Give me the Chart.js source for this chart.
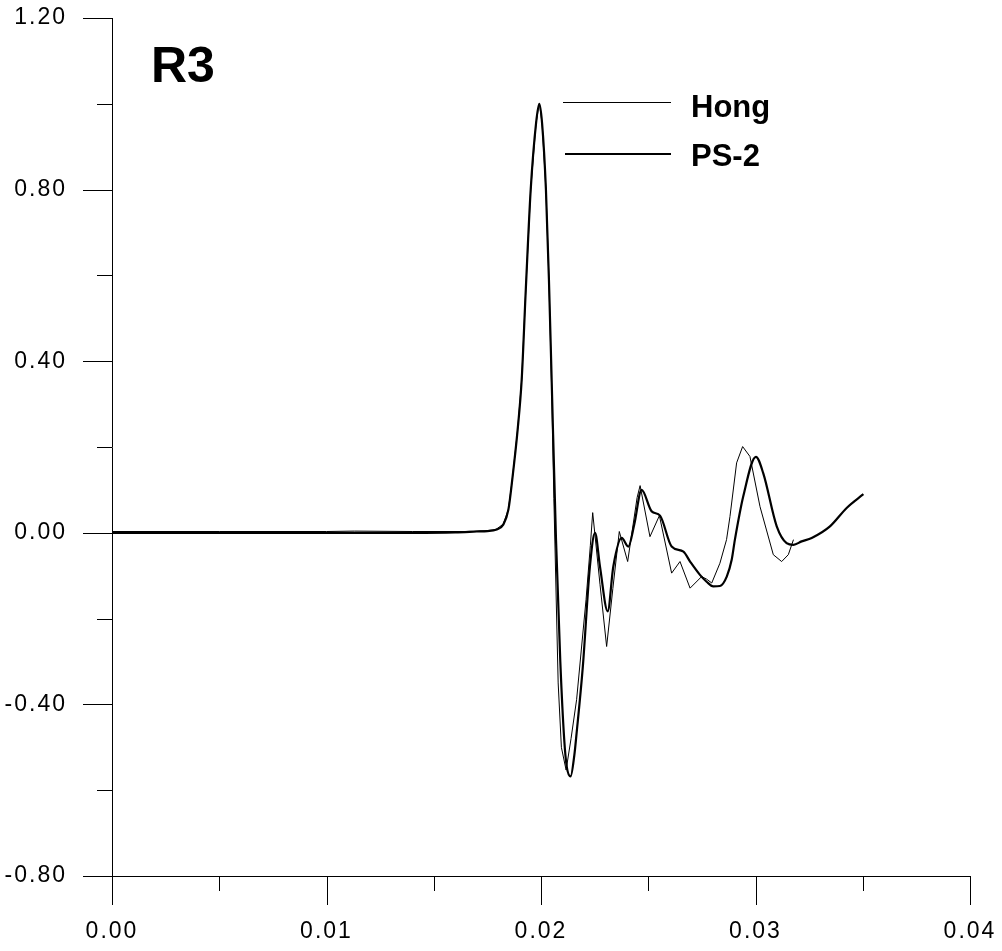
<!DOCTYPE html>
<html>
<head>
<meta charset="utf-8">
<script src="https://cdn.jsdelivr.net/npm/chart.js@4"></script>
<style>
  html, body { margin: 0; padding: 0; background: #fff; }
  #wrap { width: 1002px; height: 951px; }
</style>
</head>
<body>
<div id="wrap"><canvas id="chart"></canvas></div>
<script>
// Time (s) and normalised amplitude for the two records at station R3
const hongTime = [0, 0.005, 0.010, 0.0113, 0.014, 0.0165, 0.0175, 0.0179, 0.01824, 0.01848,
    0.01866, 0.01891, 0.0191, 0.01929, 0.01952, 0.01977, 0.01992, 0.02005, 0.02023, 0.02037,
    0.0205, 0.0206, 0.0208, 0.02095, 0.02117, 0.0214, 0.02166, 0.0221, 0.0223, 0.02241,
    0.02275, 0.02306, 0.02335, 0.02365, 0.02404, 0.02448, 0.02462, 0.02508, 0.02552, 0.02609,
    0.02648, 0.02695, 0.02749, 0.02772, 0.02796, 0.02834, 0.02865, 0.02881, 0.02912, 0.0294,
    0.02974, 0.03021, 0.03083, 0.03122, 0.03153, 0.03177];
const hongAmp = [0.003, 0.003, 0.003, 0.004, 0.003, 0.003, 0.005, 0.008, 0.020, 0.055,
    0.124, 0.240, 0.357, 0.566, 0.800, 0.955, 1.000, 0.955, 0.800, 0.590,
    0.330, 0.080, -0.350, -0.500, -0.553, -0.480, -0.389, -0.156, -0.030, 0.047,
    -0.120, -0.265, -0.130, 0.003, -0.067, 0.082, 0.110, -0.009, 0.040, -0.094,
    -0.067, -0.129, -0.102, -0.108, -0.117, -0.071, -0.016, 0.038, 0.163, 0.201,
    0.178, 0.061, -0.051, -0.067, -0.051, -0.016];

const ps2Time = [0, 0.005, 0.010, 0.014, 0.016, 0.017, 0.0175, 0.0179, 0.01824, 0.01848,
    0.01866, 0.01891, 0.0191, 0.01929, 0.01952, 0.01977, 0.01992, 0.02005, 0.02023, 0.02037,
    0.0205, 0.0207, 0.0209, 0.02108, 0.0212, 0.02138, 0.02155, 0.02166, 0.02195, 0.02228,
    0.02252, 0.02275, 0.02311, 0.02337, 0.02376, 0.02407, 0.02435, 0.02469, 0.02516, 0.02555,
    0.02609, 0.02664, 0.02695, 0.02741, 0.02772, 0.02803, 0.02834, 0.02866, 0.02889, 0.02904,
    0.02943, 0.03002, 0.03036, 0.03099, 0.03145, 0.03177, 0.03215, 0.03262, 0.03347, 0.03425,
    0.03503];
const ps2Amp = [0, 0, 0, 0, 0.001, 0.003, 0.004, 0.007, 0.019, 0.054,
    0.124, 0.240, 0.357, 0.566, 0.800, 0.955, 1.000, 0.955, 0.800, 0.590,
    0.350, -0.016, -0.300, -0.480, -0.545, -0.568, -0.520, -0.467, -0.312, -0.079,
    0.000, -0.079, -0.183, -0.079, -0.012, -0.032, 0.020, 0.100, 0.050, 0.040,
    -0.032, -0.044, -0.067, -0.098, -0.114, -0.125, -0.124, -0.102, -0.063, -0.016,
    0.085, 0.177, 0.139, 0.015, -0.024, -0.028, -0.020, -0.012, 0.015, 0.058,
    0.090];

const seriesNames = ['Hong', 'PS-2'];
const panelTitle = 'R3';
const xTickLabels = ['0.00', '0.01', '0.02', '0.03', '0.04'];
const yTickLabels = ['-0.80', '-0.40', '0.00', '0.40', '0.80', '1.20'];

const toPoints = (xs, ys) => xs.map((x, i) => ({ x: x, y: ys[i] }));

const labelFont = { family: '"Liberation Sans", Arial, sans-serif', size: 23 };

// Outward tick marks (long at labels, short halfway between), panel title and legend
const axisDecor = {
    id: 'axisDecor',
    beforeDraw(chart) {
        chart.ctx.letterSpacing = '2px';
    },
    beforeDatasetsDraw(chart) {
        chart.ctx.letterSpacing = '0px';
    },
    afterDraw(chart) {
        const { ctx, chartArea: a, scales: { x, y } } = chart;
        ctx.save();
        ctx.strokeStyle = '#000';
        ctx.lineWidth = 1;
        ctx.beginPath();
        x.ticks.forEach((t, i) => {
            const px = Math.round(x.getPixelForValue(t.value)) + 0.5;
            ctx.moveTo(px, a.bottom);
            ctx.lineTo(px, a.bottom + 29);
            if (i < x.ticks.length - 1) {
                const mid = Math.round(x.getPixelForValue((t.value + x.ticks[i + 1].value) / 2)) + 0.5;
                ctx.moveTo(mid, a.bottom);
                ctx.lineTo(mid, a.bottom + 15);
            }
        });
        y.ticks.forEach((t, i) => {
            const py = Math.round(y.getPixelForValue(t.value)) + 0.5;
            ctx.moveTo(a.left - 29, py);
            ctx.lineTo(a.left, py);
            if (i < y.ticks.length - 1) {
                const mid = Math.round(y.getPixelForValue((t.value + y.ticks[i + 1].value) / 2)) + 0.5;
                ctx.moveTo(a.left - 15, mid);
                ctx.lineTo(a.left, mid);
            }
        });
        ctx.stroke();

        ctx.fillStyle = '#000';
        ctx.textBaseline = 'alphabetic';
        ctx.textAlign = 'left';
        ctx.font = 'bold 50px "Liberation Sans", Arial, sans-serif';
        ctx.fillText(panelTitle, a.left + 39, 82);

        // legend
        const legendLeft = a.left + 451;
        const legendRight = a.left + 559;
        ctx.beginPath();
        ctx.lineWidth = 1;
        ctx.moveTo(legendLeft, 102.5);
        ctx.lineTo(legendRight, 102.5);
        ctx.stroke();
        ctx.beginPath();
        ctx.lineWidth = 2.2;
        ctx.moveTo(legendLeft + 2, 154);
        ctx.lineTo(legendRight, 154);
        ctx.stroke();
        ctx.font = 'bold 31px "Liberation Sans", Arial, sans-serif';
        ctx.fillText(seriesNames[0], legendRight + 20, 117);
        ctx.fillText(seriesNames[1], legendRight + 20, 166);
        ctx.restore();
    }
};

new Chart(document.getElementById('chart'), {
    type: 'scatter',
    data: {
        datasets: [
            {
                label: seriesNames[0],
                data: toPoints(hongTime, hongAmp),
                showLine: true,
                borderColor: '#000',
                borderWidth: 1,
                pointRadius: 0,
                tension: 0
            },
            {
                label: seriesNames[1],
                data: toPoints(ps2Time, ps2Amp),
                showLine: true,
                borderColor: '#000',
                borderWidth: 2.2,
                pointRadius: 0,
                cubicInterpolationMode: 'monotone'
            }
        ]
    },
    options: {
        responsive: true,
        maintainAspectRatio: false,
        animation: false,
        events: [],
        layout: {
            padding: { top: 18, right: 32, left: 0, bottom: 0 }
        },
        plugins: {
            legend: { display: false },
            title: { display: false },
            tooltip: { enabled: false }
        },
        scales: {
            x: {
                type: 'linear',
                min: 0,
                max: 0.04,
                afterFit: function(scale) {
                    scale.height = 75;
                    scale.paddingLeft = 0;
                    scale.paddingRight = 0;
                },
                grid: { display: true, drawOnChartArea: false, drawTicks: false },
                border: { display: true, color: '#000', width: 1 },
                ticks: {
                    stepSize: 0.01,
                    autoSkip: false,
                    maxRotation: 0,
                    padding: 42,
                    color: '#000',
                    font: labelFont,
                    callback: function(value, index) {
                        return xTickLabels[index];
                    }
                }
            },
            y: {
                type: 'linear',
                min: -0.8,
                max: 1.2,
                afterFit: function(scale) {
                    scale.width = 112;
                    scale.paddingTop = 0;
                    scale.paddingBottom = 0;
                },
                grid: { display: true, drawOnChartArea: false, drawTicks: false },
                border: { display: true, color: '#000', width: 1 },
                ticks: {
                    stepSize: 0.4,
                    autoSkip: false,
                    padding: 45,
                    color: '#000',
                    font: labelFont,
                    callback: function(value, index) {
                        return yTickLabels[index];
                    }
                }
            }
        }
    },
    plugins: [axisDecor]
});
</script>
</body>
</html>
